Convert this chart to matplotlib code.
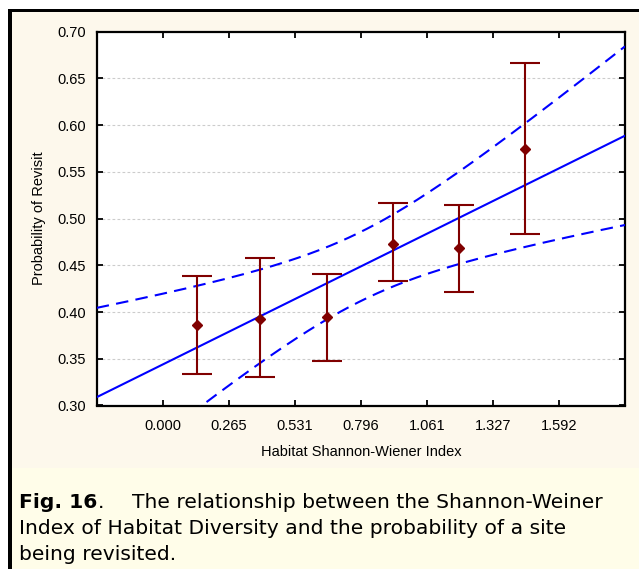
import numpy as np
import matplotlib
matplotlib.use("Agg")
import matplotlib.pyplot as plt
from matplotlib.patches import Rectangle

# średnie prawdopodobieństwo powrotu w klasach indeksu Shannona-Wienera
shannon_x = [0.137, 0.391, 0.659, 0.924, 1.191, 1.455]
revisit_mean = [0.386, 0.393, 0.395, 0.473, 0.469, 0.574]
revisit_low = [0.334, 0.331, 0.348, 0.433, 0.421, 0.483]
revisit_high = [0.439, 0.458, 0.441, 0.517, 0.515, 0.666]

# dopasowana prosta i pasmo ufności 95%
FIT_INTERCEPT = 0.3439
FIT_SLOPE = 0.1318
BAND_W0 = 0.037
BAND_K = 0.083
BAND_XC = 0.796

X_STEP = 0.26536
x_tick_labels = ["0.000", "0.265", "0.531", "0.796", "1.061", "1.327", "1.592"]
y_ticks = [0.30, 0.35, 0.40, 0.45, 0.50, 0.55, 0.60, 0.65, 0.70]

W, H = 639, 569
fig = plt.figure(figsize=(W / 100, H / 100), dpi=100)
fig.patch.set_facecolor("white")


def px(x0, y0, w, h):
    # prostokąt w pikselach (od lewego górnego rogu) -> współrzędne figury
    return (x0 / W, 1 - (y0 + h) / H), w / W, h / H


def add_rect(x0, y0, w, h, color):
    xy, ww, hh = px(x0, y0, w, h)
    fig.patches.append(Rectangle(xy, ww, hh, transform=fig.transFigure,
                                 facecolor=color, edgecolor="none", zorder=-5))


add_rect(12, 12, W - 12, 456, "#fdf8ec")
add_rect(12, 468, W - 12, H - 468, "#fffde9")
add_rect(8, 9, 4, H - 9, "black")
add_rect(8, 9, W - 8, 3, "black")

ax = fig.add_axes([96.7 / W, 1 - 405.5 / H, (625 - 96.7) / W, (405.5 - 31.7) / H])
ax.set_facecolor("white")

xlim = (-X_STEP, 7 * X_STEP)
ax.set_xlim(*xlim)
ax.set_ylim(0.30, 0.70)

# prosta regresji + pasmo ufności
xs = np.linspace(xlim[0], xlim[1], 400)
ys = FIT_INTERCEPT + FIT_SLOPE * xs
half = np.sqrt(BAND_W0**2 + BAND_K**2 * (xs - BAND_XC)**2)
ax.plot(xs, ys, color="#0000ff", lw=1.5, zorder=3)
ax.plot(xs, ys + half, color="#0000ff", lw=1.5, dashes=(6, 3.5), zorder=3)
ax.plot(xs, ys - half, color="#0000ff", lw=1.5, dashes=(6, 3.5), zorder=3)

mean = np.array(revisit_mean)
yerr = [mean - np.array(revisit_low), np.array(revisit_high) - mean]
ax.errorbar(shannon_x, mean, yerr=yerr, fmt="D", color="#800000", ms=5,
             elinewidth=1.5, capsize=10.5, capthick=1.5, zorder=4)

ax.set_xticks([i * X_STEP for i in range(7)])
ax.set_xticklabels(x_tick_labels)
ax.set_yticks(y_ticks)
ax.set_yticklabels([f"{v:.2f}" for v in y_ticks])
ax.tick_params(axis="both", which="major", direction="in", length=4, width=1.3,
               top=True, right=True, labelsize=10.5, colors="black")
ax.tick_params(axis="x", pad=10)
ax.tick_params(axis="y", pad=8)
for lab in ax.get_xticklabels() + ax.get_yticklabels():
    lab.set_family("Liberation Sans")
for s in ax.spines.values():
    s.set_linewidth(1.6)

for v in y_ticks[1:-1]:
    ax.axhline(v, color="#cccccc", lw=0.8, ls=(0, (2.5, 2)), zorder=1)

ax.set_xlabel("Habitat Shannon-Wiener Index", family="Liberation Sans",
              fontsize=10.5, labelpad=8)
ax.set_ylabel("Probability of Revisit", family="Liberation Sans",
              fontsize=10.5, labelpad=8)

# podpis rysunku
cap_font = "DejaVu Sans"
cap_size = 14.6
t = fig.text(19 / W, 1 - 508 / H, "Fig. 16", fontweight="bold",
             family=cap_font, fontsize=cap_size, va="baseline")
ax.annotate(".", xy=(1, 0), xycoords=t, va="bottom", ha="left",
            family=cap_font, fontsize=cap_size, annotation_clip=False)
fig.text(132 / W, 1 - 508 / H, "The relationship between the Shannon-Weiner",
         family=cap_font, fontsize=cap_size, va="baseline")
fig.text(19 / W, 1 - 534 / H, "Index of Habitat Diversity and the probability of a site",
         family=cap_font, fontsize=cap_size, va="baseline")
fig.text(19 / W, 1 - 560 / H, "being revisited.",
         family=cap_font, fontsize=cap_size, va="baseline")

fig.savefig("out.png", dpi=100, facecolor=fig.get_facecolor())
